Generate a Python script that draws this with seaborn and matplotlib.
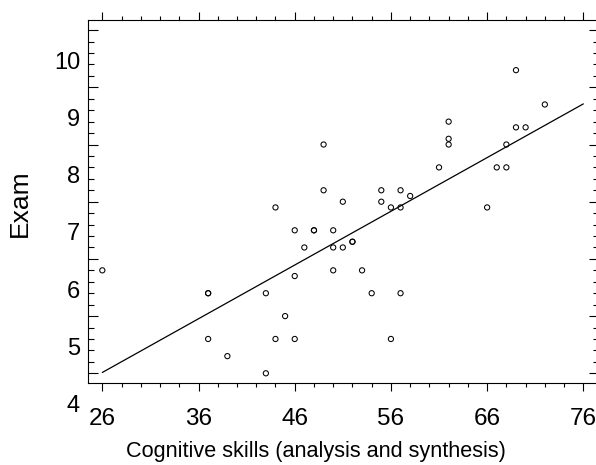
import numpy as np
import matplotlib
matplotlib.use('Agg')
import matplotlib.pyplot as plt
import seaborn as sns
from matplotlib import font_manager, transforms
from matplotlib.ticker import MultipleLocator

# Werte (doppelte Punkte zweimal)
skills = [26, 37, 37, 37, 39, 43, 43, 44, 44, 45, 46, 46, 46, 47, 48, 48, 49, 49,
          50, 50, 50, 51, 51, 52, 52, 53, 54, 55, 55, 56, 56, 57, 57, 57, 58, 61,
          62, 62, 62, 66, 67, 68, 68, 69, 69, 70, 72]
exam = [6.3, 5.9, 5.9, 5.1, 4.8, 5.9, 4.5, 5.1, 7.4, 5.5, 5.1, 6.2, 7.0, 6.7, 7.0,
        7.0, 8.5, 7.7, 7.0, 6.7, 6.3, 7.5, 6.7, 6.8, 6.8, 6.3, 5.9, 7.7, 7.5, 7.4,
        5.1, 7.7, 7.4, 5.9, 7.6, 8.1, 8.9, 8.6, 8.5, 7.4, 8.1, 8.1, 8.5, 8.8, 9.8,
        8.8, 9.2]
x_ticks = [26, 36, 46, 56, 66, 76]
y_labels = [4, 5, 6, 7, 8, 9, 10]

X_LABEL = 'Cognitive skills (analysis and synthesis)'
Y_LABEL = 'Exam'

sns.set_style('ticks')
plt.rcParams['font.family'] = ['Liberation Sans', 'DejaVu Sans']
# alles schwarz statt seaborn-grau
plt.rcParams['text.color'] = 'black'
plt.rcParams['axes.labelcolor'] = 'black'
plt.rcParams['xtick.color'] = 'black'
plt.rcParams['ytick.color'] = 'black'

# schmale Schrift fuer die x-Beschriftung, falls vorhanden
font_names = {f.name for f in font_manager.fontManager.ttflist}
if 'Liberation Sans Narrow' in font_names:
    xlabel_font = dict(family=['Liberation Sans Narrow', 'DejaVu Sans'], fontsize=18.8)
else:
    xlabel_font = dict(family=['Liberation Sans', 'DejaVu Sans'], fontsize=15.6)

fig = plt.figure(figsize=(5.96, 4.65), dpi=100)
ax = fig.add_axes([87.7 / 596, 1 - 383.3 / 465, (599 - 87.7) / 596, (383.3 - 20) / 465])

# Punkte
sns.scatterplot(x=skills, y=exam, ax=ax, marker='o', s=14, facecolor='none',
                edgecolor='black', linewidth=0.75, zorder=3)

# Regressionsgerade
coef = np.polyfit(skills, exam, 1)
line_x = np.array([x_ticks[0], x_ticks[-1]])
sns.lineplot(x=line_x, y=np.polyval(coef, line_x), ax=ax, color='black', linewidth=0.9)

ax.set_xlim(24.48, 77.63)
ax.set_ylim(4.325, 10.677)

# Achsen / Ticks
ax.set_xticks(x_ticks)
ax.xaxis.set_minor_locator(MultipleLocator(2))
ax.yaxis.set_major_locator(MultipleLocator(1, offset=0.5))
ax.yaxis.set_minor_locator(MultipleLocator(0.2, offset=0.1))

ax.tick_params(axis='x', which='both', direction='out', top=True, bottom=True,
               width=0.8, color='black')
ax.tick_params(axis='x', which='major', length=5.6, pad=12, labelsize=17.5,
               labelcolor='black')
ax.tick_params(axis='x', which='minor', length=3.2)
ax.tick_params(axis='y', which='both', direction='in', left=True, right=True,
               labelleft=False, width=0.8, color='black')
ax.tick_params(axis='y', which='major', length=7.5)
ax.tick_params(axis='y', which='minor', length=4)

for side in ['left', 'right', 'top', 'bottom']:
    ax.spines[side].set_color('black')
    ax.spines[side].set_linewidth(0.8)

# y-Beschriftungen stehen im Original zwischen den langen Strichen
label_trans = transforms.offset_copy(ax.get_yaxis_transform(), fig=fig,
                                     x=-5.5, y=-3, units='points')
for v in y_labels:
    ax.text(0, v, str(v), transform=label_trans, ha='right', va='center',
            fontsize=17, color='black', clip_on=False)

ax.set_xlabel(X_LABEL, va='baseline', color='black', **xlabel_font)
ax.xaxis.set_label_coords(0.4465, -0.202)
ax.set_ylabel(Y_LABEL, fontsize=19, va='center', color='black')
ax.yaxis.set_label_coords(-0.1334, 0.495)

fig.savefig('out.png', dpi=100)
